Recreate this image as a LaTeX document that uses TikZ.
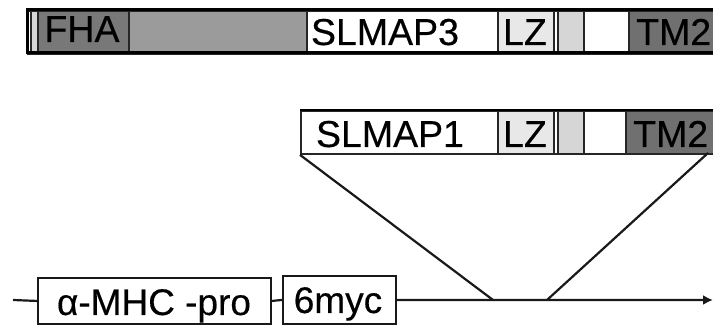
\documentclass[tikz,border=0pt]{standalone}
\usepackage{fontspec}
\setmainfont{Liberation Sans}[FakeBold=0.4]
\usetikzlibrary{arrows.meta}
\definecolor{fhagray}{HTML}{787878}
\definecolor{midgray}{HTML}{9B9B9B}
\definecolor{tmgray}{HTML}{707070}
\definecolor{lzfill}{HTML}{E8E8E8}
\definecolor{stripe}{HTML}{D6D6D6}
\tikzset{
  seg/.style={draw=black!85, line width=1.9pt, inner sep=0pt, anchor=north west, minimum height=#1},
  seg/.default=43pt,
  lbl/.style={inner sep=0pt, anchor=base, font=\fontsize{37.5}{40}\selectfont\addfontfeatures{FakeBold=0.4}},
  conn/.style={line width=2.2pt, black!90}
}
\begin{document}
\begin{tikzpicture}[x=1pt,y=-1pt]
\useasboundingbox (0,0) rectangle (713,328);
\clip (0,0) rectangle (713,328);
% ---- SLMAP3 bar ----
\node[seg, minimum width=693pt, minimum height=43pt] (bar3) at (27,10) {};
\node[seg, fill=stripe, minimum width=7pt] (t_st) at (30,10) {};
\node[seg, fill=fhagray, minimum width=91pt] (t_fha) at (37,10) {};
\node[seg, fill=midgray, minimum width=178pt] (t_gray) at (128,10) {};
\node[seg, fill=white, minimum width=191pt] (t_name) at (306,10) {};
\node[seg, fill=lzfill, minimum width=56pt] (t_lz) at (497,10) {};
\node[seg, fill=white, minimum width=4pt] (t_thin) at (553,10) {};
\node[seg, fill=stripe, minimum width=26pt] (t_lt) at (557,10) {};
\node[seg, fill=white, minimum width=45pt] (t_wh) at (583,10) {};
\node[seg, fill=tmgray, minimum width=92pt] (t_tm) at (628,10) {};
\draw[line width=3pt, black] (27,10) rectangle (720,53);
\node[lbl] (l_fha) at (82,42) {FHA};
\node[lbl] (l_s3) at (385,45) {SLMAP3};
\node[lbl] (l_lz3) at (525,45) {LZ};
\node[lbl, anchor=base west] (l_tm3) at (636,45) {TM2};
% ---- SLMAP1 bar ----
\node[seg, fill=white, minimum width=197pt] (b_name) at (300,110) {};
\node[seg, fill=lzfill, minimum width=56pt] (b_lz) at (497,110) {};
\node[seg, fill=white, minimum width=4pt] (b_thin) at (553,110) {};
\node[seg, fill=stripe, minimum width=26pt] (b_lt) at (557,110) {};
\node[seg, fill=white, minimum width=42pt] (b_wh) at (583,110) {};
\node[seg, fill=tmgray, minimum width=95pt] (b_tm) at (625,110) {};
\draw[line width=2.4pt, black] (300,110) -- (720,110);
\node[lbl] (l_s1) at (390,147) {SLMAP1};
\node[lbl] (l_lz1) at (525,147) {LZ};
\node[lbl, anchor=base west] (l_tm1) at (633,147) {TM2};
% ---- construct line ----
\coordinate (start) at (13,300);
\coordinate (ins1) at (493,300);
\coordinate (ins2) at (547,300);
\coordinate (endp) at (713,300);
\coordinate (tr) at (708,153);
\node[draw=black!90, line width=1.9pt, inner sep=0pt, anchor=north west, minimum width=233pt, minimum height=46pt] (mhc) at (37,277) {};
\node[draw=black!90, line width=1.9pt, inner sep=0pt, anchor=north west, minimum width=113pt, minimum height=48pt] (myc) at (282,275) {};
\node[lbl, font=\fontsize{37}{40}\selectfont\addfontfeatures{FakeBold=0.4}] (l_mhc) at (154,315) {α-MHC -pro};
\node[lbl, font=\fontsize{37}{40}\selectfont\addfontfeatures{FakeBold=0.4}] (l_myc) at (338,313) {6myc};
\draw[conn] (start) -- (mhc.west);
\draw[conn] (mhc.east) -- (myc.west);
\draw[conn, -{Latex[length=10pt,width=10pt]}] (myc.east) -- (endp);
\draw[conn] (b_name.south west) -- (ins1);
\draw[conn] (tr) -- (ins2);
\end{tikzpicture}
\end{document}
